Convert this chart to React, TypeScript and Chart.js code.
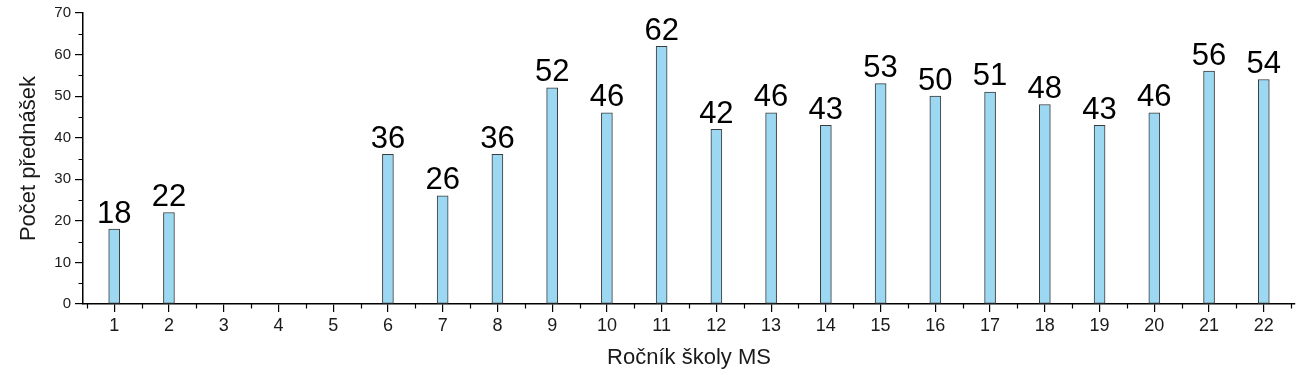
import React, { useEffect, useRef } from "react";
import { Chart, registerables } from "chart.js";

Chart.register(...registerables);

const categories: number[] = [1, 2, 3, 4, 5, 6, 7, 8, 9, 10, 11, 12, 13, 14, 15, 16, 17, 18, 19, 20, 21, 22];
const values: (number | null)[] = [18, 22, null, null, null, 36, 26, 36, 52, 46, 62, 42, 46, 43, 53, 50, 51, 48, 43, 46, 56, 54];
const yTicks: number[] = [0, 10, 20, 30, 40, 50, 60, 70];
const yMinorTicks: number[] = [5, 15, 25, 35, 45, 55, 65];
const xMinorTicks: number[] = [0.5, 1.5, 2.5, 3.5, 4.5, 5.5, 6.5, 7.5, 8.5, 9.5, 10.5, 11.5, 12.5, 13.5, 14.5, 15.5, 16.5, 17.5, 18.5, 19.5, 20.5, 21.5, 22.5];
const xTitle = "Ročník školy MS";
const yTitle = "Počet přednášek";

const FONT = "'Liberation Sans', Arial, sans-serif";

const extrasPlugin = {
  id: "extras",
  afterDatasetsDraw(chart: any) {
    const ctx = chart.ctx;
    const xs = chart.scales.x;
    const ys = chart.scales.y;
    ctx.save();
    // minor ticks
    ctx.strokeStyle = "#000";
    ctx.lineWidth = 1.2;
    ctx.beginPath();
    xMinorTicks.forEach((v) => {
      const px = Math.round(xs.getPixelForValue(v)) + 0.5;
      ctx.moveTo(px, ys.bottom);
      ctx.lineTo(px, ys.bottom + 4.5);
    });
    yMinorTicks.forEach((v) => {
      const py = Math.round(ys.getPixelForValue(v)) + 0.5;
      ctx.moveTo(xs.left, py);
      ctx.lineTo(xs.left - 4.5, py);
    });
    ctx.stroke();
    // value labels
    const meta = chart.getDatasetMeta(0);
    ctx.fillStyle = "#000";
    ctx.font = `31px ${FONT}`;
    ctx.textAlign = "center";
    ctx.textBaseline = "alphabetic";
    meta.data.forEach((el: any, i: number) => {
      const v = values[i];
      if (v === null || v === undefined) return;
      ctx.fillText(String(v), el.x, el.y - 6.5);
    });
    ctx.restore();
  },
};

export default function App() {
  const ref = useRef<HTMLCanvasElement | null>(null);
  useEffect(() => {
    document.body.style.margin = "0";
    const canvas = ref.current!;
    const chart = new Chart(canvas, {
      type: "bar",
      data: {
        datasets: [
          {
            data: categories.map((c, i) => ({ x: c, y: values[i] })) as any,
            backgroundColor: "#9dd8f2",
            borderColor: "#3a3a3a",
            borderWidth: 1,
            borderSkipped: false,
            barThickness: 11,
          },
        ],
      },
      options: {
        animation: false,
        responsive: false,
        maintainAspectRatio: false,
        layout: { padding: { top: 12, right: 9, left: 0, bottom: 0 } },
        plugins: { legend: { display: false }, tooltip: { enabled: false } },
        scales: {
          x: {
            type: "linear",
            offset: false,
            min: 0.43,
            max: 22.57,
            afterBuildTicks: (scale: any) => {
              scale.ticks = categories.map((v) => ({ value: v }));
            },
            afterFit: (scale: any) => {
              scale.height = 80;
            },
            ticks: {
              callback: (v: any) => String(v),
              color: "#1a1a1a",
              font: { family: FONT, size: 18 },
              padding: 3,
              maxRotation: 0,
              autoSkip: false,
            },
            grid: {
              offset: false,
              drawOnChartArea: false,
              drawTicks: true,
              tickLength: 8,
              color: "#000",
              lineWidth: 1.2,
            },
            border: { display: true, color: "#000", width: 1.5 },
            title: {
              display: true,
              text: xTitle,
              color: "#1a1a1a",
              font: { family: FONT, size: 22 },
              padding: { top: 8, bottom: 13 },
            },
          },
          y: {
            type: "linear",
            min: 0,
            max: 70,
            afterBuildTicks: (scale: any) => {
              scale.ticks = yTicks.map((v) => ({ value: v }));
            },
            afterFit: (scale: any) => {
              scale.width = 83;
            },
            ticks: {
              color: "#1a1a1a",
              font: { family: FONT, size: 15 },
              padding: 4,
            },
            grid: {
              drawOnChartArea: false,
              drawTicks: true,
              tickLength: 8,
              color: "#000",
              lineWidth: 1.2,
            },
            border: { display: true, color: "#000", width: 1.5 },
            title: {
              display: true,
              text: yTitle,
              color: "#1a1a1a",
              font: { family: FONT, size: 22 },
              padding: { top: 16, bottom: 0 },
            },
          },
        },
      },
      plugins: [extrasPlugin],
    } as any);
    return () => chart.destroy();
  }, []);
  return (
    <div style={{ position: "fixed", left: 0, top: 0, width: 1304, height: 384, background: "#fff" }}>
      <canvas ref={ref} width={1304} height={384} style={{ width: 1304, height: 384 }} />
    </div>
  );
}
